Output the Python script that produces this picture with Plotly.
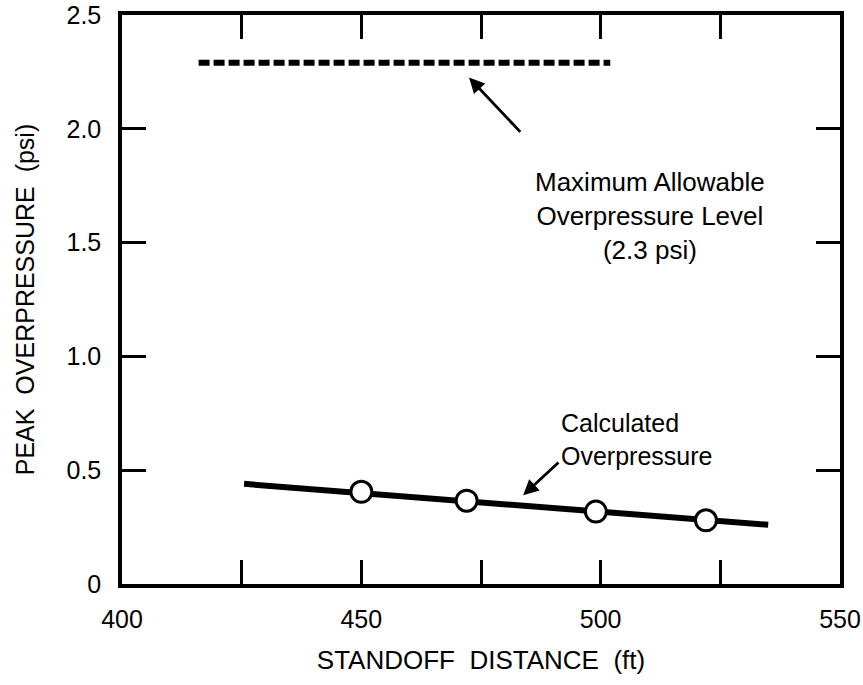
import plotly.graph_objects as go

# Data
line_x = [425.5, 535.0]
line_y = [0.44, 0.26]
point_x = [450, 472, 499, 522]
point_y = [0.405, 0.366, 0.318, 0.280]
limit_x = [416, 502]
limit_y = [2.29, 2.29]
x_tickvals = [400, 425, 450, 475, 500, 525, 550]
x_ticktext = ["400", "", "450", "", "500", "", "550"]
y_tickvals = [0, 0.5, 1.0, 1.5, 2.0, 2.5]
y_ticktext = ["0", "0.5", "1.0", "1.5", "2.0", "2.5"]

FONT = "Liberation Sans, Arial, Helvetica, sans-serif"

fig = go.Figure()
fig.add_trace(go.Scatter(x=limit_x, y=limit_y, mode="lines",
                         line=dict(color="black", width=6, dash="11px,4px"),
                         showlegend=False, hoverinfo="skip"))
fig.add_trace(go.Scatter(x=line_x, y=line_y, mode="lines",
                         line=dict(color="black", width=6),
                         showlegend=False, hoverinfo="skip"))
fig.add_trace(go.Scatter(x=point_x, y=point_y, mode="markers",
                         marker=dict(size=21, color="white",
                                     line=dict(color="black", width=3)),
                         showlegend=False))

# arrow to limit line
fig.add_annotation(x=472.5, y=2.225, ax=483.5, ay=1.98, xref="x", yref="y",
                   axref="x", ayref="y", showarrow=True, arrowhead=2,
                   arrowsize=1.1, arrowwidth=2.8, arrowcolor="black", text="")
fig.add_annotation(x=510.3, y=1.615, xref="x", yref="y",
                   text="Maximum Allowable<br>Overpressure Level<br>(2.3 psi)",
                   showarrow=False, align="center",
                   font=dict(family=FONT, size=26, color="black"))
# arrow to calculated line
fig.add_annotation(x=483.8, y=0.39, ax=491.5, ay=0.54, xref="x", yref="y",
                   axref="x", ayref="y", showarrow=True, arrowhead=2,
                   arrowsize=1.1, arrowwidth=2.8, arrowcolor="black", text="")
fig.add_annotation(x=491.2, y=0.635, xref="x", yref="y",
                   text="Calculated<br>Overpressure", showarrow=False,
                   align="left", xanchor="left",
                   font=dict(family=FONT, size=25, color="black"))

axis_common = dict(showgrid=False, zeroline=False, showline=True,
                   linecolor="black", linewidth=3.5, mirror="ticks",
                   ticks="inside", ticklen=24, tickwidth=2.5, tickcolor="black",
                   ticklabeloverflow="allow",
                   tickfont=dict(family=FONT, size=25, color="black"))

fig.update_xaxes(range=[400, 550], tickvals=x_tickvals, ticktext=x_ticktext,
                 ticklabelstandoff=10,
                 title=dict(text="STANDOFF  DISTANCE  (ft)", standoff=20,
                            font=dict(family=FONT, size=26, color="black")),
                 **axis_common)
fig.update_yaxes(range=[0, 2.5], tickvals=y_tickvals, ticktext=y_ticktext,
                 ticklabelstandoff=12,
                 title=dict(text="PEAK  OVERPRESSURE  (psi)", standoff=26,
                            font=dict(family=FONT, size=25, color="black")),
                 **axis_common)

fig.update_layout(width=863, height=685, plot_bgcolor="white",
                  paper_bgcolor="white",
                  margin=dict(l=122, r=23, t=15, b=101, autoexpand=False))

fig.write_html("out.html")
